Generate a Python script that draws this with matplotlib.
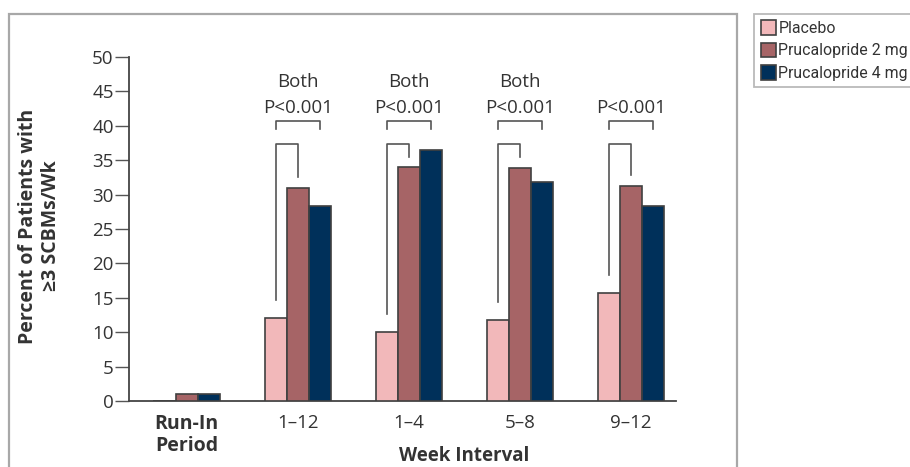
import matplotlib
matplotlib.use("Agg")
import matplotlib.pyplot as plt
import matplotlib.patches as mpatches
import matplotlib.transforms as mtransforms
import numpy as np

categories = ["Run-In\nPeriod", "1\u201312", "1\u20134", "5\u20138", "9\u201312"]
placebo = [0.0, 12.1, 10.1, 11.8, 15.7]
pru2 = [1.0, 31.0, 34.0, 33.9, 31.3]
pru4 = [1.0, 28.4, 36.5, 31.8, 28.4]
series_names = ["Placebo", "Prucalopride 2 mg", "Prucalopride 4 mg"]
annotations = [None, "Both\nP<0.001", "Both\nP<0.001", "Both\nP<0.001", "P<0.001"]
yticks = [0, 5, 10, 15, 20, 25, 30, 35, 40, 45, 50]

colors = ["#F2B8BA", "#A66466", "#00305A"]
edge = "#404040"
textc = "#333333"
FONT = ["Open Sans", "DejaVu Sans"]

fig = plt.figure(figsize=(9.1, 4.67), dpi=100)
ax = fig.add_axes([129/910, 65.7/467, (676-129)/910, (401.3-56.7)/467])

x = np.arange(len(categories))
w = 0.2
for vals, off, c, name in zip([placebo, pru2, pru4], [-w, 0, w], colors, series_names):
    ax.bar(x + off, vals, width=w, color=c, edgecolor=edge, linewidth=1.2, label=name, zorder=3)

ax.set_xlim(-0.52, 4.405)
ax.set_ylim(0, 50)
ax.set_yticks(yticks)
ax.set_yticklabels([str(t) for t in yticks], fontsize=13.5, color=textc, family=FONT)
ax.tick_params(axis="y", length=10, width=1, color="#555555", pad=1)
ax.tick_params(axis="x", length=0, pad=9)
ax.set_xticks(x)
ax.set_xticklabels(categories, fontsize=13.5, color=textc, family=FONT)
for i, lbl in enumerate(ax.get_xticklabels()):
    if i == 0:
        lbl.set_fontweight("bold")
        lbl.set_fontsize(14)
        lbl.set_linespacing(1.15)
for s in ["top", "right"]:
    ax.spines[s].set_visible(False)
for s in ["left", "bottom"]:
    ax.spines[s].set_color("#444444")
    ax.spines[s].set_linewidth(1.3)

# brackets
bc = "#555555"
for i in range(1, len(categories)):
    xp, xm, xh = x[i] - w, x[i], x[i] + w
    ax.plot([xp, xp, xm, xm], [placebo[i] + 2.6, 37.4, 37.4, pru2[i] + 1.5], color=bc, lw=1.2, clip_on=False)
    ax.plot([xp, xp, xh, xh], [39.5, 40.6, 40.6, 39.5], color=bc, lw=1.2, clip_on=False)
    lines = annotations[i].split("\n")
    ax.text(x[i], 41.9, lines[-1], ha="center", va="baseline", fontsize=13.5, color=textc, family=FONT)
    if len(lines) > 1:
        ax.text(x[i], 45.6, lines[0], ha="center", va="baseline", fontsize=13.5, color=textc, family=FONT)

fig.text(39.5/910, 1 - 226/467, "Percent of Patients with\n\u22653 SCBMs/Wk", rotation=90,
         ha="center", va="center", fontsize=14, fontweight="bold", color=textc,
         family=FONT, linespacing=1.2, multialignment="center")
trans = mtransforms.blended_transform_factory(ax.transData, fig.transFigure)
ax.text(2.5, 6/467, "Week Interval", transform=trans, ha="center", va="baseline",
        fontsize=13.5, fontweight="bold", color=textc, family=FONT)

# outer frame
fig.patches.append(mpatches.Rectangle((9/910, -0.1), (737-9)/910, 1.1 - 14/467, transform=fig.transFigure,
                                      fill=False, edgecolor="#A8A8A8", linewidth=1.6))

leg = fig.legend(loc="upper left", bbox_to_anchor=(754/910, 1 - 13.5/467), frameon=True, fancybox=False,
                 edgecolor="#A8A8A8", handlelength=1.0, handleheight=1.05, handletextpad=0.12,
                 borderaxespad=0, borderpad=0.42, labelspacing=0.42, prop={"family": "Roboto", "size": 11.4})
leg.get_frame().set_linewidth(1.3)
for t in leg.get_texts():
    t.set_color(textc)

fig.savefig("out.png", dpi=100, facecolor="white")
